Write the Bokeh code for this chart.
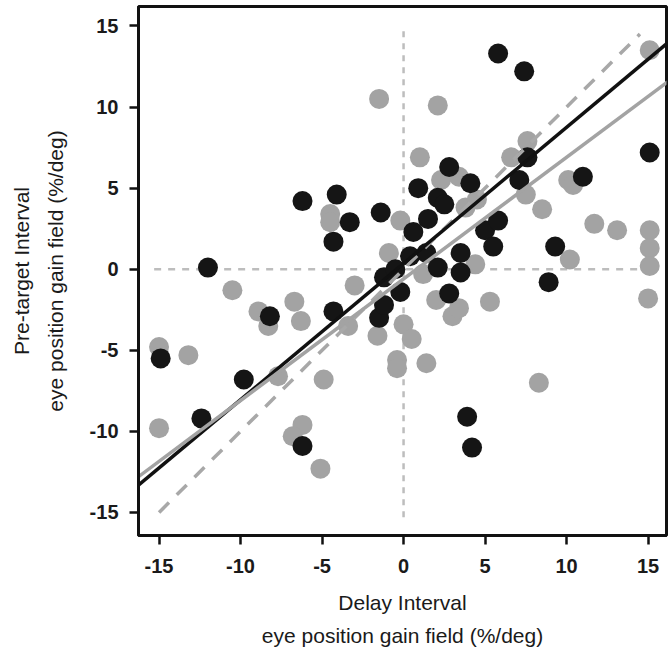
from bokeh.plotting import figure
from bokeh.models import Range1d, FixedTicker
from bokeh.embed import file_html
from bokeh.resources import INLINE

# Black points (delay vs pre-target), set 1
black_x = [-14.9, -12.4, -12.0, -9.8, -8.2, -6.2, -6.2, -4.3, -4.1, -4.3, -3.3, -1.4, -1.5, -1.2,
           -1.2, -0.5, -0.2, 0.4, 0.6, 0.9, 1.4, 1.5, 2.1, 2.1, 2.5, 2.8, 2.8, 3.5, 3.5, 4.1,
           3.9, 4.2, 5.0, 5.5, 5.8, 5.8, 7.1, 7.4, 7.6, 8.9, 9.3, 11.0, 15.1]
black_y = [-5.5, -9.2, 0.1, -6.8, -2.9, 4.2, -10.9, 1.7, 4.6, -2.6, 2.9, 3.5, -3.0, -2.2,
           -0.5, 0.0, -1.4, 0.8, 2.3, 5.0, 1.0, 3.1, 4.4, 0.1, 4.0, 6.3, -1.5, 1.0, -0.2, 5.3,
           -9.1, -11.0, 2.4, 1.4, 3.0, 13.3, 5.5, 12.2, 6.9, -0.8, 1.4, 5.7, 7.2]

# Gray points, set 2
gray_x = [-15.0, -15.0, -13.2, -10.5, -8.9, -8.3, -7.7, -6.7, -6.3, -6.2, -6.8, -5.1, -4.9, -4.5,
          -4.5, -3.4, -3.0, -1.5, -1.6, -0.9, -0.2, 0.0, 0.5, -0.4, -0.4, 1.4, 1.0, 2.1, 2.0,
          1.2, 2.3, 3.4, 3.0, 3.4, 3.8, 4.5, 4.4, 5.3, 6.6, 7.6, 7.5, 8.5, 8.3, 10.1, 10.4,
          10.2, 11.7, 13.1, 15.1, 15.1, 15.1, 15.1, 15.0]
gray_y = [-4.8, -9.8, -5.3, -1.3, -2.6, -3.5, -6.6, -2.0, -3.2, -9.6, -10.3, -12.3, -6.8, 3.4,
          2.9, -3.5, -1.0, 10.5, -4.1, 1.0, 3.0, -3.4, -4.3, -5.6, -6.1, -5.8, 6.9, 10.1, -1.9,
          -0.3, 5.5, 5.7, -2.9, -2.4, 3.8, 4.3, 0.3, -2.0, 6.9, 7.9, 4.6, 3.7, -7.0, 5.5, 5.2,
          0.6, 2.8, 2.4, 13.5, 2.4, 1.3, 0.2, -1.8]

# Regression fits (slope, intercept) and identity line
black_fit = (0.84, 0.35)
gray_fit = (0.75, -0.6)
fit_x = [-16.3, 16.2]
identity_x = [-15.0, 14.5]
zero_span = [-15.3, 15.0]
ticks = [-15, -10, -5, 0, 5, 10, 15]
tick_labels = {t: str(t) for t in ticks}

p = figure(width=668, height=660, output_backend="svg", toolbar_location=None,
           x_range=Range1d(-16.26, 16.13), y_range=Range1d(-16.42, 16.2),
           min_border_left=138, min_border_right=2, min_border_top=6, min_border_bottom=125)
p.grid.visible = False
p.background_fill_color = "white"
p.border_fill_color = "white"
p.outline_line_color = "#111111"
p.outline_line_width = 3

# reference lines
p.line([0, 0], zero_span, line_color="#bdbdbd", line_width=2.5, line_dash="6 6")
p.line(zero_span, [0, 0], line_color="#bdbdbd", line_width=2.5, line_dash="7 7")

p.scatter(gray_x, gray_y, size=20, fill_color="#a3a3a3", line_color="#a3a3a3", line_width=0)
p.scatter(black_x, black_y, size=20, fill_color="#151515", line_color="#151515", line_width=0)

p.line(identity_x, identity_x, line_color="#a8a8a8", line_width=3.5, line_dash="14 11")
p.line(fit_x, [black_fit[0] * x + black_fit[1] for x in fit_x], line_color="#111111", line_width=3.5)
p.line(fit_x, [gray_fit[0] * x + gray_fit[1] for x in fit_x], line_color="#a3a3a3", line_width=3.5)

for ax in (p.xaxis[0], p.yaxis[0]):
    ax.ticker = FixedTicker(ticks=ticks)
    ax.major_label_overrides = tick_labels
    ax.minor_tick_line_color = None
    ax.axis_line_color = "#111111"
    ax.axis_line_width = 3
    ax.major_tick_line_color = "#111111"
    ax.major_tick_line_width = 2.5
    ax.major_tick_in = 0
    ax.major_tick_out = 9
    ax.major_label_text_font = "Liberation Sans"
    ax.major_label_text_font_style = "bold"
    ax.major_label_text_font_size = "20px"
    ax.major_label_text_color = "#1a1a1a"
    ax.axis_label_text_font = "Liberation Sans"
    ax.axis_label_text_font_style = "normal"
    ax.axis_label_text_font_size = "21px"
    ax.axis_label_text_line_height = 1.45
    ax.axis_label_text_color = "#1a1a1a"

p.xaxis.axis_label = "Delay Interval\neye position gain field (%/deg)"
p.yaxis.axis_label = "Pre-target Interval\neye position gain field (%/deg)"
p.xaxis.major_label_standoff = 14
p.yaxis.major_label_standoff = 11
p.xaxis.axis_label_standoff = 15
p.yaxis.axis_label_standoff = 20

open("out.html", "w").write(file_html(p, INLINE))
